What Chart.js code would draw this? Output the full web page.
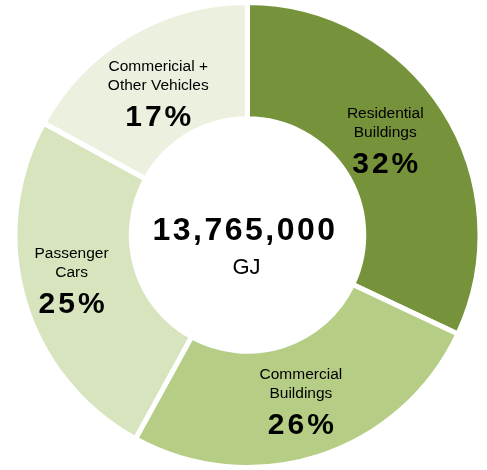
<!DOCTYPE html>
<html>
<head>
<meta charset="utf-8">
<script src="https://cdn.jsdelivr.net/npm/chart.js@4/dist/chart.umd.min.js"></script>
<style>
  html, body { margin: 0; padding: 0; background: #ffffff; }
  #wrap { width: 487px; height: 470px; }
</style>
</head>
<body>
<div id="wrap"><canvas id="c" width="487" height="470"></canvas></div>
<script>
const categories = [
  ["Residential", "Buildings"],
  ["Commercial", "Buildings"],
  ["Passenger", "Cars"],
  ["Commericial +", "Other Vehicles"]
];
const shares = [32, 26, 25, 17];
const colors = ["#76933C", "#B5CD85", "#D7E4BD", "#EBF1DE"];
const totalValue = "13,765,000";
const totalUnit = "GJ";

const FONT = "'Liberation Sans', Arial, sans-serif";

// small label nudges (pixels) from each slice's centroid, per slice
const labelNudge = [[-9.5, -2], [-0.5, -0.5], [-8.5, -4.5], [-0.5, 7]];

const labelPlugin = {
  id: 'sliceLabels',
  afterDatasetsDraw(chart) {
    const ctx = chart.ctx;
    const meta = chart.getDatasetMeta(0);
    ctx.save();
    ctx.textAlign = 'center';
    ctx.textBaseline = 'middle';
    ctx.fillStyle = '#000000';
    meta.data.forEach((arc, i) => {
      const p = arc.tooltipPosition();
      const px = p.x + labelNudge[i][0];
      const py = p.y + labelNudge[i][1];
      const lines = categories[i];
      ctx.font = '15.5px ' + FONT;
      ctx.letterSpacing = '0px';
      ctx.fillText(lines[0], px, py - 25.5);
      ctx.fillText(lines[1], px, py - 6.5);
      ctx.font = 'bold 30px ' + FONT;
      ctx.letterSpacing = '3px';
      ctx.fillText(shares[i] + '%', px + 1.5, py + 25.5);
    });
    // centre text
    const x = (chart.chartArea.left + chart.chartArea.right) / 2;
    const y = (chart.chartArea.top + chart.chartArea.bottom) / 2;
    ctx.font = 'bold 32px ' + FONT;
    ctx.letterSpacing = '2.5px';
    ctx.fillText(totalValue, x - 2.5, y - 4);
    ctx.font = '22px ' + FONT;
    ctx.letterSpacing = '0px';
    ctx.fillText(totalUnit, x - 1, y + 33);
    ctx.restore();
  }
};

new Chart(document.getElementById('c'), {
  type: 'doughnut',
  data: {
    labels: categories.map(l => l.join(' ')),
    datasets: [{
      data: shares,
      backgroundColor: colors,
      borderColor: '#ffffff',
      borderWidth: 5,
      borderAlign: 'center',
      hoverOffset: 0
    }]
  },
  options: {
    responsive: false,
    animation: false,
    cutout: '50%',
    layout: { padding: { top: -1, bottom: -3, left: 10.5, right: 2.5 } },
    plugins: {
      legend: { display: false },
      tooltip: { enabled: false }
    }
  },
  plugins: [labelPlugin]
});
</script>
</body>
</html>
